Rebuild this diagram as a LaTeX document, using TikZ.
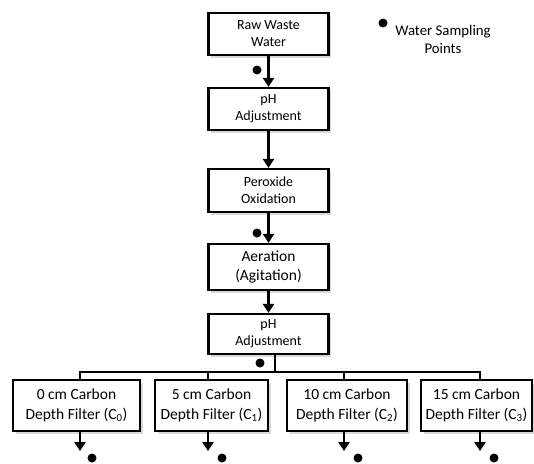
\documentclass[tikz,border=0pt]{standalone}
\usepackage{fontspec}
\setmainfont{Carlito}
\usepackage{tikz}
\usetikzlibrary{positioning}
\usetikzlibrary{arrows.meta,shadows}

\begin{document}
\begin{tikzpicture}[x=1pt,y=-1pt,
	stage/.style={draw,line width=2.2pt,fill=white,align=center,inner sep=0pt,
		minimum width=120pt,minimum height=42pt,font=\fontsize{14}{17}\selectfont,
		drop shadow={shadow xshift=2.5pt,shadow yshift=-2.5pt,opacity=0.3}},
	filter/.style={stage,minimum height=51pt,font=\fontsize{15.5}{20}\selectfont},
	flow/.style={line width=2.6pt,-{Triangle[width=11pt,length=9pt]}},
	pipe/.style={line width=2.6pt},
	spot/.style={circle,fill,inner sep=0pt,minimum size=9pt}]
	\useasboundingbox (0,0) rectangle (534,463);
	% treatment train
	\node[stage] (raw) at (268.5,34) {Raw Waste\\Water};
	\node[stage] (ph1) at (268.5,109) {pH\\Adjustment};
	\node[stage,minimum height=43pt] (perox) at (268.5,190.5) {Peroxide\\Oxidation};
	\node[stage,minimum height=46pt,font=\fontsize{15.5}{19}\selectfont] (aer) at (268.5,267) {Aeration\\(Agitation)};
	\node[stage,minimum height=40pt] (ph2) at (268.5,334) {pH\\Adjustment};
	% carbon filters
	\node[filter,minimum width=127pt] (f0) at (76.5,405.5) {0 cm Carbon\\Depth Filter (C\textsubscript{0})};
	\node[filter,minimum width=113pt] (f1) at (211.5,405.5) {5 cm Carbon\\Depth Filter (C\textsubscript{1})};
	\node[filter,minimum width=120pt] (f2) at (347,405.5) {10 cm Carbon\\Depth Filter (C\textsubscript{2})};
	\node[filter,minimum width=111pt] (f3) at (476.5,405.5) {15 cm Carbon\\Depth Filter (C\textsubscript{3})};
	% legend
	\node[spot] (key) at (383,23) {};
	\node[align=center,font=\fontsize{14.8}{18}\selectfont] (keytext) at (443,39) {Water Sampling\\Points};

	\draw[flow] (raw.south) -- (ph1.north);
	\draw[flow] (ph1.south) -- (perox.north);
	\draw[flow] (perox.south) -- (aer.north);
	\draw[flow] (aer.south) -- (ph2.north);

	\coordinate (split) at (275,372);
	\draw[pipe] (ph2.south -| split) -- (split);
	\draw[pipe] ([xshift=3.5pt]f0.north) |- (split) -| ([xshift=3.5pt]f3.north);
	\draw[pipe] ([xshift=-3.5pt]f1.north) |- (split);
	\draw[pipe] ([xshift=-3pt]f2.north) |- (split);

	\coordinate (out0) at (80,451);
	\coordinate (out1) at (208,451);
	\coordinate (out2) at (344,451);
	\coordinate (out3) at (480,451);
	\draw[flow] (f0.south -| out0) -- (out0);
	\draw[flow] (f1.south -| out1) -- (out1);
	\draw[flow] (f2.south -| out2) -- (out2);
	\draw[flow] (f3.south -| out3) -- (out3);

	% sampling points
	\node[spot] (s0) at (257,70) {};
	\node[spot] (s1) at (257,233) {};
	\node[spot] (s2) at (260,363) {};
	\node[spot] (s3) at (92,458) {};
	\node[spot] (s4) at (222,458) {};
	\node[spot] (s5) at (358,458) {};
	\node[spot] (s6) at (494,458) {};
\end{tikzpicture}
\end{document}
